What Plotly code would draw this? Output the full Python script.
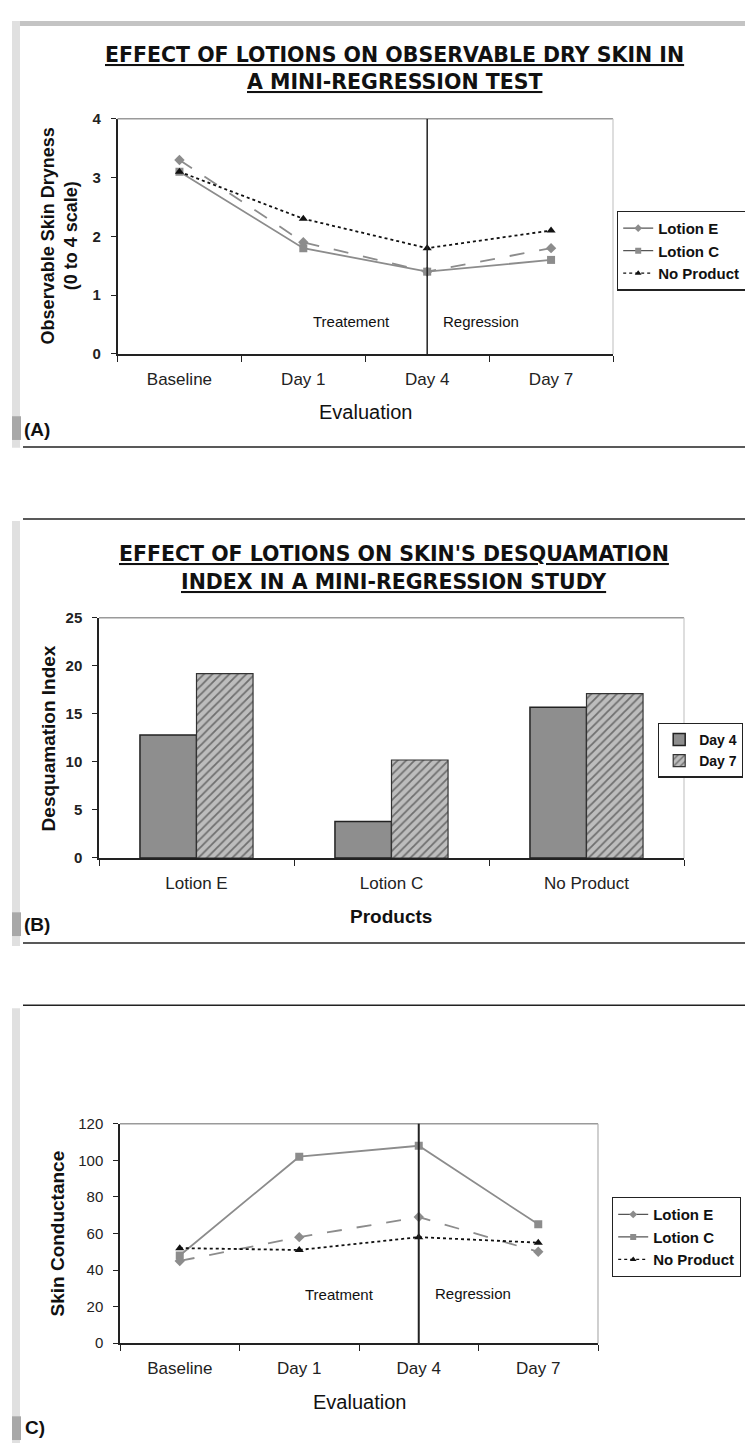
import plotly.graph_objects as go

W, H = 753, 1443

# (A) observable dry skin, 0-4 scale
days = ["Baseline", "Day 1", "Day 4", "Day 7"]
dryness_lotion_e = [3.3, 1.9, 1.4, 1.8]
dryness_lotion_c = [3.1, 1.8, 1.4, 1.6]
dryness_no_product = [3.1, 2.3, 1.8, 2.1]

# (B) desquamation index
products = ["Lotion E", "Lotion C", "No Product"]
desq_day4 = [12.8, 3.8, 15.7]
desq_day7 = [19.2, 10.2, 17.1]

# (C) skin conductance
conductance_lotion_e = [45, 58, 69, 50]
conductance_lotion_c = [48, 102, 108, 65]
conductance_no_product = [52, 51, 58, 55]

SANS = "Liberation Sans, Arial, sans-serif"
HEAVY = "DejaVu Sans, Verdana, sans-serif"
GRAY = "#8c8c8c"


def px(x):
    return x / W


def py(y):
    return 1 - y / H


series_style = {
    "Lotion E": dict(color=GRAY, dash="longdash", symbol="diamond"),
    "Lotion C": dict(color=GRAY, dash="solid", symbol="square"),
    "No Product": dict(color="#111111", dash="dot", symbol="triangle-up"),
}

fig = go.Figure()


def add_lines(series, xa, ya, leg):
    for name, ys in series:
        st = series_style[name]
        fig.add_trace(go.Scatter(
            x=days, y=ys, name=name, mode="lines+markers", xaxis=xa, yaxis=ya,
            line=dict(color=st["color"], dash=st["dash"], width=1.8),
            marker=dict(symbol=st["symbol"], size=8, color=st["color"]),
            showlegend=False,
        ))
        # key entries are drawn solid for the lotions, like the original legend
        fig.add_trace(go.Scatter(
            x=[None], y=[None], name=name, mode="lines+markers", xaxis=xa, yaxis=ya,
            line=dict(color="#555555" if name != "No Product" else "#111111",
                      dash="dot" if name == "No Product" else "solid", width=1.3),
            marker=dict(symbol=st["symbol"], size=6, color=st["color"]),
            legend=leg,
        ))


add_lines([("Lotion E", dryness_lotion_e), ("Lotion C", dryness_lotion_c),
           ("No Product", dryness_no_product)], "x", "y", "legend")

fig.add_trace(go.Bar(
    x=products, y=desq_day4, name="Day 4", xaxis="x2", yaxis="y2", legend="legend2",
    marker=dict(color="#8e8e8e", line=dict(color="#222222", width=1.5)),
))
fig.add_trace(go.Bar(
    x=products, y=desq_day7, name="Day 7", xaxis="x2", yaxis="y2", legend="legend2",
    marker=dict(color="#bdbdbd", line=dict(color="#333333", width=1.2),
                pattern=dict(shape="/", fgcolor="#222222", bgcolor="#bdbdbd", size=6, solidity=0.3)),
))

add_lines([("Lotion E", conductance_lotion_e), ("Lotion C", conductance_lotion_c),
           ("No Product", conductance_no_product)], "x3", "y3", "legend3")

cat_font = dict(family=SANS, size=17, color="#222222")


def xaxis(left, right, anchor, ncat):
    return dict(domain=[px(left), px(right)], anchor=anchor, type="category",
                range=[-0.5, ncat - 0.5], tickson="boundaries", ticks="outside",
                ticklen=6, tickcolor="#222222", showline=True, linecolor="#222222",
                linewidth=1.5, showgrid=False, zeroline=False, tickfont=cat_font,
                ticklabelstandoff=9, fixedrange=True)


def yaxis(top, bottom, anchor, rng, dtick, bold):
    return dict(domain=[py(bottom), py(top)], anchor=anchor, range=rng, dtick=dtick,
                ticks="outside", ticklen=5, tickcolor="#222222", showline=True,
                linecolor="#222222", linewidth=1.5, showgrid=False, zeroline=False,
                tickfont=dict(family=SANS, size=15, color="#222222",
                              weight="bold" if bold else "normal"),
                ticklabelstandoff=7, fixedrange=True)


legend_common = dict(bgcolor="white", bordercolor="#222222", borderwidth=1.2,
                     font=dict(family=SANS, size=15, color="#111111", weight="bold"),
                     xanchor="left", yanchor="top", tracegroupgap=0)

fig.update_layout(
    width=W, height=H, margin=dict(l=0, r=0, t=0, b=0),
    paper_bgcolor="white", plot_bgcolor="white",
    barmode="group", bargap=0.42, bargroupgap=0,
    xaxis=xaxis(109.5, 605, "y", 4),
    yaxis=yaxis(103, 341, "x", [0, 4], 1, True),
    xaxis2=xaxis(91, 676, "y2", 3),
    yaxis2=yaxis(608, 851, "x2", [0, 25], 5, True),
    xaxis3=xaxis(112, 590, "y3", 4),
    yaxis3=yaxis(1120, 1342, "x3", [0, 120], 20, False),
    legend=dict(legend_common, x=px(609), y=py(196)),
    legend2=dict(legend_common, x=px(650), y=py(714),
                 font=dict(family=SANS, size=14, color="#111111", weight="bold")),
    legend3=dict(legend_common, x=px(604), y=py(1194)),
    showlegend=True,
)

shapes = []


def line(x0, y0, x1, y1, color="#222222", width=1.5):
    shapes.append(dict(type="line", xref="paper", yref="paper", x0=px(x0), x1=px(x1),
                       y0=py(y0), y1=py(y1), line=dict(color=color, width=width)))


def rect(x0, y0, x1, y1, color):
    shapes.append(dict(type="rect", xref="paper", yref="paper", x0=px(x0), x1=px(x1),
                       y0=py(y0), y1=py(y1), line=dict(width=0), fillcolor=color, layer="below"))


# scanned page edges
rect(4, 4, 753, 9, "#c4c4c4")
rect(4, 4, 12, 436, "#e0e0e0")
rect(4, 404, 13, 428, "#a8a8a8")
rect(4, 510, 12, 940, "#e0e0e0")
rect(4, 906, 13, 930, "#a8a8a8")
rect(4, 1003, 12, 1443, "#e0e0e0")
rect(4, 1416, 13, 1440, "#a8a8a8")

# panel separators
line(15, 435, 753, 435)
line(15, 508, 753, 508)
line(15, 937, 753, 937)
line(15, 1000, 753, 1000)

# plot frame tops and right sides
line(109.5, 103, 605, 103, "#9a9a9a", 1.5)
line(605, 103, 605, 341, "#c8c8c8", 1.2)
line(91, 608, 676, 608, "#9a9a9a", 1.5)
line(676, 608, 676, 851, "#c8c8c8", 1.2)
line(112, 1120, 590, 1120, "#9a9a9a", 1.5)
line(590, 1120, 590, 1342, "#b0b0b0", 1.2)

# treatment / regression divider at Day 4
shapes.append(dict(type="line", xref="x", yref="y", x0=2, x1=2, y0=0, y1=4,
                   line=dict(color="#222222", width=1.5)))
shapes.append(dict(type="line", xref="x3", yref="y3", x0=2, x1=2, y0=-5.5, y1=121.5,
                   line=dict(color="#222222", width=2)))

fig.update_layout(shapes=shapes)

ann = []


def text(x, y, s, size, family=SANS, bold=False, angle=0, color="#111111"):
    ann.append(dict(xref="paper", yref="paper", x=px(x), y=py(y), text=s, showarrow=False,
                    xanchor="center", yanchor="middle", textangle=angle,
                    font=dict(family=family, size=size, color=color,
                              weight="bold" if bold else "normal")))


text(386, 38, "<u>EFFECT OF LOTIONS ON OBSERVABLE DRY SKIN IN</u>", 20.5, HEAVY, True)
text(386, 66, "<u>A MINI-REGRESSION TEST</u>", 20.5, HEAVY, True)
text(51, 222, "Observable Skin Dryness<br>(0 to 4 scale)", 18, SANS, True, -90)
text(357, 400, "Evaluation", 20)
text(343, 308, "Treatement", 15)
text(473, 308, "Regression", 15)
text(29, 417, "(A)", 19, SANS, True)

text(386, 543, "<u>EFFECT OF LOTIONS ON SKIN'S DESQUAMATION</u>", 20.5, HEAVY, True)
text(386, 572, "<u>INDEX IN A MINI-REGRESSION STUDY</u>", 20.5, HEAVY, True)
text(40, 730, "Desquamation Index", 19, SANS, True, -90)
text(383, 910, "Products", 19, SANS, True)
text(29, 918, "(B)", 19, SANS, True)

text(49, 1231, "Skin Conductance", 19, SANS, True, -90)
text(351, 1402, "Evaluation", 20)
text(331, 1293, "Treatment", 15)
text(465, 1292, "Regression", 15)
text(27, 1427, "C)", 19, SANS, True)

fig.update_layout(annotations=ann)

fig.write_html("out.html")
